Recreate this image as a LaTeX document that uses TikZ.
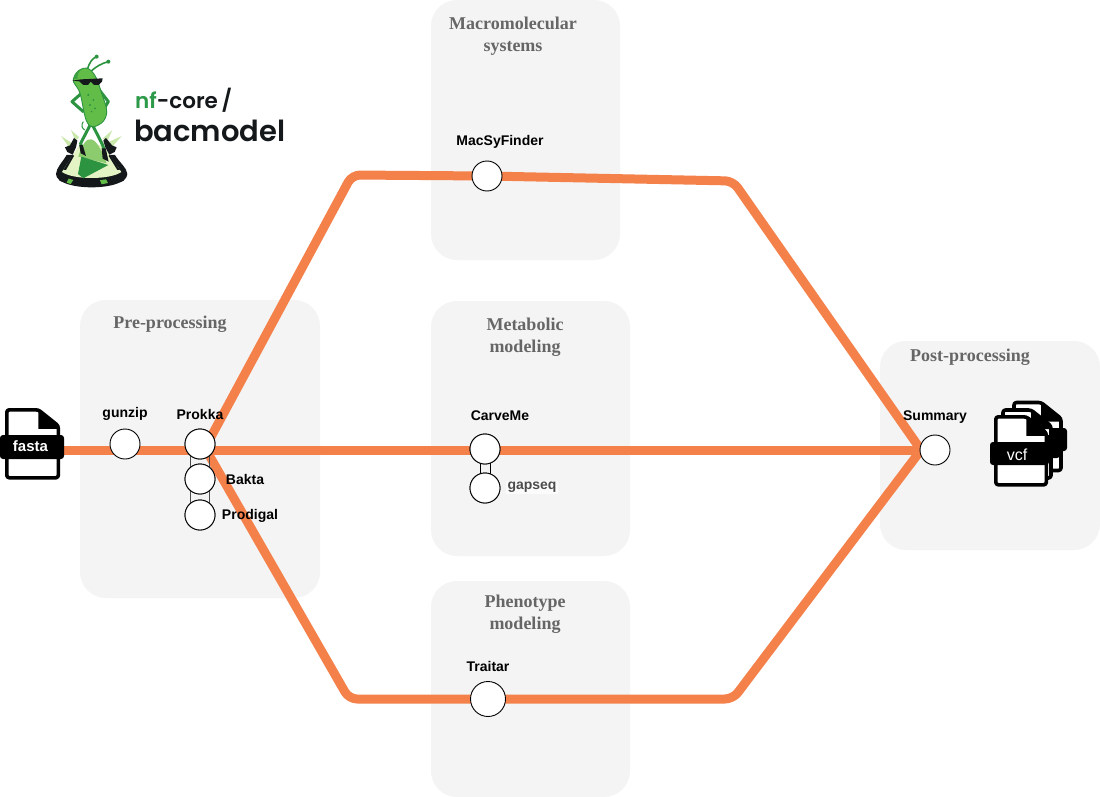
\documentclass[tikz,border=0pt]{standalone}
\usepackage{fontspec}
\setmainfont{Liberation Sans}
\newfontfamily\titlefont{Liberation Serif}
\newfontfamily\logofont{Poppins SemiBold}
\definecolor{panelgray}{HTML}{F4F4F4}
\definecolor{route}{HTML}{F4814A}
\definecolor{titlegray}{HTML}{666666}
\definecolor{pickle}{HTML}{62BC48}
\definecolor{pickledark}{HTML}{2C9440}
\definecolor{flasklight}{HTML}{E4F3C4}
\definecolor{domegreen}{HTML}{8CCB6E}
\definecolor{logoink}{HTML}{14181A}
\definecolor{nfgreen}{HTML}{2C9A48}
\tikzset{
  panel/.style={fill=panelgray,draw=none,rounded corners=26},
  paneltitle/.style={font=\titlefont\bfseries\fontsize{18}{22}\selectfont,text=titlegray,align=center,inner sep=0},
  routeline/.style={draw=route,line width=9,rounded corners=8,line join=round},
  station/.style={circle,draw=black,fill=white,line width=0.9,minimum size=30,inner sep=0},
  stationlabel/.style={font=\bfseries\fontsize{14}{16}\selectfont,text=black,inner sep=0},
  fileband/.style={fill=black,rounded corners=3},
  filetext/.style={text=white,inner sep=0},
  link/.style={draw=black!70,line width=0.9},
  filebody/.style={draw=black,fill=white,line width=3.6,rounded corners=2.5,line join=round},
}
\newcommand{\fileshape}[3]{% x, y, width
  \begin{scope}[shift={(#1,#2)}]
    \path[filebody] (0,0) -- (#3-20,0) -- (#3,16) -- (#3,68) -- (0,68) -- cycle;
    \fill[black,line join=round] (#3-20,0) -- (#3,16) -- (#3,19) -- (#3-20,19) -- cycle;
  \end{scope}}
\begin{document}
\begin{tikzpicture}[x=1pt,y=-1pt]
\useasboundingbox (0,0) rectangle (1100,797);
\fill[white] (0,0) rectangle (1100,797);

% panels
\path[panel] (80,300) rectangle (320,598);
\path[panel] (431,0) rectangle (620,260);
\path[panel] (431,301) rectangle (630,556);
\path[panel] (431,581) rectangle (630,797);
\path[panel] (880,341) rectangle (1100,550);

\node[paneltitle] (tpre) at (170,324) {Pre-processing};
\node[paneltitle] (tmac) at (513,36.5) {Macromolecular\\systems};
\node[paneltitle] (tmet) at (525,337) {Metabolic\\modeling};
\node[paneltitle] (tphe) at (525,614.5) {Phenotype\\modeling};
\node[paneltitle] (tpost) at (970,357) {Post-processing};

\coordinate (start) at (62,450);
\coordinate (fork) at (205,448);
\coordinate (c1) at (352,175);
\coordinate (c2) at (733,181);
\coordinate (c3) at (349,699);
\coordinate (c4) at (733,699);
\coordinate (hub) at (935,450);
\coordinate (conv) at (921,450);
\coordinate (mtop) at (487,176);
\coordinate (mbot) at (488,699);

% routes
\path[routeline] (start) -- (hub);
\path[routeline] (fork) -- (c1) -- (mtop) -- (c2) -- (conv);
\path[routeline] (fork) -- (c3) -- (mbot) -- (c4) -- (conv);

% stations and links
\node[station] (gunzip) at (125,444) {};
\node[station] (prokka) at (200,444) {};
\node[station] (bakta) at (200,479) {};
\node[station] (prodigal) at (200,515) {};
\draw[link] ([xshift=-10]prokka.center) -- ([xshift=-10]prodigal.center);
\draw[link] ([xshift=9]prokka.center) -- ([xshift=9]prodigal.center);
\node[station] at (prokka) {};
\node[station] at (bakta) {};
\node[station] at (prodigal) {};

\node[station] (carveme) at (485,449) {};
\node[station] (gapseq) at (485,488) {};
\draw[black,line width=0.9] ([xshift=-5]carveme.center) -- ([xshift=-5]gapseq.center);
\draw[black,line width=0.9] ([xshift=5]carveme.center) -- ([xshift=5]gapseq.center);
\node[station] at (carveme) {};
\node[station] at (gapseq) {};

\node[station] (macsy) at (mtop) {};
\node[station,minimum size=35] (traitar) at (mbot) {};
\node[station] (summary) at (hub) {};

% station labels
\node[stationlabel] (lgunzip) at (125,414) {gunzip};
\node[stationlabel] (lprokka) at (200,414) {Prokka};
\node[stationlabel] (lbakta) at (245,479) {Bakta};
\node[stationlabel] (lprodigal) at (250,516) {Prodigal};
\node[stationlabel] (lcarve) at (500,416) {CarveMe};
\node[stationlabel,text=black!70,fill=white!65!panelgray,inner sep=1.5] (lgap) at (532,487.5) {gapseq};
\node[stationlabel] (lmacsy) at (500,141.5) {MacSyFinder};
\node[stationlabel] (ltraitar) at (488,666) {Traitar};
\node[stationlabel] (lsummary) at (935,417) {Summary};

% fasta icon
\fileshape{6.8}{409.8}{51.5}
\path[fileband] (0,435) rectangle (64,459);
\node[filetext,font=\bfseries\fontsize{15}{17}\selectfont] (fasta) at (30.5,446) {fasta};

% vcf icons
\fileshape{1014}{402.5}{47}
\path[fileband] (1030,428) rectangle (1067,451);
\fileshape{1003}{410}{48}
\path[fileband] (1030,435) rectangle (1060,458);
\fileshape{995.8}{416.8}{50.5}
\path[fileband] (990,442) rectangle (1049,465);
\node[filetext,font=\fontsize{16}{18}\selectfont] (vcf) at (1017,455) {vcf};

% logo text
\node[anchor=base west,inner sep=0,text=logoink,font=\logofont\fontsize{21.5}{24}\selectfont] (nfcore) at (135,109) {\textcolor{nfgreen}{nf}-core\,/};
\node[anchor=base west,inner sep=0,text=logoink,font=\logofont\fontsize{29}{32}\selectfont] (bacmodel) at (134,141.5) {bacmodel};

% logo mascot, drawn in thirds of a pixel
\begin{scope}[shift={(50,50)},x=0.3333pt,y=-0.3333pt]
  % rays
  \fill[flasklight!80!pickle] (33,258) -- (72,283) -- (60,296) -- cycle;
  \fill[flasklight!80!pickle] (63,240) -- (88,262) -- (76,272) -- cycle;
  \fill[flasklight!80!pickle] (215,258) -- (168,280) -- (182,296) -- cycle;
  \fill[flasklight!80!pickle] (187,240) -- (158,266) -- (172,274) -- cycle;
  % base
  \fill[logoink] (18,372) .. controls (20,352) and (35,340) .. (50,315) -- (195,315) .. controls (210,340) and (230,352) .. (232,372) .. controls (232,398) and (180,412) .. (125,412) .. controls (70,412) and (18,398) .. (18,372) -- cycle;
  % flask glass
  \fill[flasklight] (36,366) -- (88,285) -- (158,285) -- (214,366) .. controls (180,390) and (70,390) .. (36,366) -- cycle;
  \fill[logoink] (48,360) -- (72,318) -- (68,314) -- (40,360) -- cycle;
  \fill[logoink] (202,360) -- (176,318) -- (180,314) -- (210,360) -- cycle;
  % dome and triangle
  \fill[domegreen] (85,320) .. controls (95,285) and (110,265) .. (122,268) .. controls (138,268) and (155,300) .. (170,340) -- cycle;
  \fill[pickledark] (94,320) -- (175,345) -- (100,385) -- (84,372) -- cycle;
  \fill[logoink] (30,380) .. controls (70,398) and (180,398) .. (220,380) -- (222,392) .. controls (180,410) and (70,410) .. (28,392) -- cycle;
  \fill[pickle] (56,386) -- (70,390) -- (62,402) -- (50,398) -- cycle;
  \fill[pickle] (150,391) -- (168,388) -- (174,399) -- (155,403) -- cycle;
  % little figures on the shoulders
  \fill[logoink] (45,292) -- (60,286) -- (72,264) -- (82,272) -- (78,292) -- (68,314) -- (52,306) -- cycle;
  \fill[logoink] (200,292) -- (186,286) -- (168,264) -- (160,272) -- (166,292) -- (178,314) -- (194,306) -- cycle;
  % legs and shoes
  \draw[pickledark,line width=3,line cap=round,line join=round] (122,222) -- (92,280) -- (96,300);
  \draw[pickledark,line width=3,line cap=round,line join=round] (126,222) -- (158,285) -- (166,312);
  \fill[logoink] (88,285) -- (98,285) -- (108,318) -- (92,310) -- cycle;
  \fill[logoink] (155,295) -- (167,295) -- (176,335) -- (158,326) -- cycle;
  \draw[pickledark,line width=1] (100,215) .. controls (92,225) and (96,235) .. (104,240);
  % arms
  \draw[pickledark,line width=3,line join=round,line cap=round] (100,125) -- (66,155) -- (100,185);
  \draw[pickledark,line width=3,line join=round,line cap=round] (148,120) -- (175,155) -- (150,195);
  % antennae
  \draw[pickledark,line width=1.6,line cap=round] (112,58) .. controls (118,40) and (125,25) .. (140,20);
  \draw[pickledark,line width=1.6,line cap=round] (125,62) .. controls (138,50) and (155,40) .. (175,35);
  \fill[pickledark] (140,20) circle (6) (175,35) circle (6);
  % body
  \fill[pickle,draw=pickledark,line width=0.9] plot[smooth cycle,tension=0.7] coordinates {(100,55) (132,72) (155,130) (170,190) (145,225) (112,218) (90,130) (70,88)};
  \fill[pickledark] (115,135) circle (3.5) (130,150) circle (3) (120,165) circle (3.5) (135,175) circle (3) (125,185) circle (2.5);
  \fill[pickledark!70!pickle] (70,85) .. controls (74,65) and (90,55) .. (100,55) .. controls (85,60) and (82,75) .. (82,88) -- cycle;
  % sunglasses
  \fill[logoink] (66,92) -- (95,88) -- (158,85) -- (156,95) -- (146,105) -- (132,105) -- (122,95) -- (114,105) -- (100,105) -- (88,94) -- cycle;
\end{scope}
\end{tikzpicture}
\end{document}
